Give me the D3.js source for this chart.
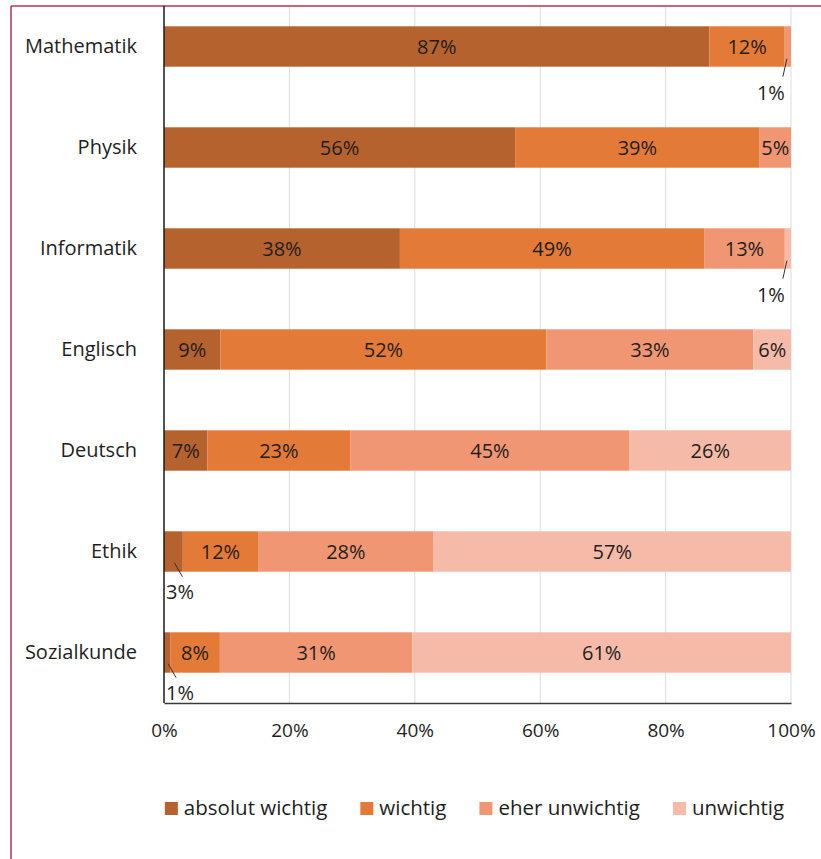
<!DOCTYPE html>
<html>
<head>
<meta charset="utf-8">
<script src="https://cdn.jsdelivr.net/npm/d3@7"></script>
<style>
  body { margin: 0; background: #fff; }
  svg { display: block; font-family: "Open Sans", Lato, sans-serif; }
</style>
</head>
<body>
<svg id="chart" width="821" height="859"></svg>
<script>
const subjects = ["Mathematik", "Physik", "Informatik", "Englisch", "Deutsch", "Ethik", "Sozialkunde"];
const seriesNames = ["absolut wichtig", "wichtig", "eher unwichtig", "unwichtig"];
const absolutWichtig = [87, 56, 38, 9, 7, 3, 1];
const wichtig = [12, 39, 49, 52, 23, 12, 8];
const eherUnwichtig = [1, 5, 13, 33, 45, 28, 31];
const unwichtig = [0, 0, 1, 6, 26, 57, 61];
const colors = ["#b6622e", "#e47a37", "#f09672", "#f5bba8"];
const xTicks = [0, 0.2, 0.4, 0.6, 0.8, 1];
// small segments whose label sits below the bar with a leader line
const outsideLabels = [
  { subject: "Mathematik", series: "eher unwichtig", side: "right" },
  { subject: "Informatik", series: "unwichtig", side: "right" },
  { subject: "Ethik", series: "absolut wichtig", side: "left" },
  { subject: "Sozialkunde", series: "absolut wichtig", side: "left" }
];

const values = [absolutWichtig, wichtig, eherUnwichtig, unwichtig];
const rows = subjects.map((s, i) => {
  const r = { subject: s };
  seriesNames.forEach((n, k) => { r[n] = values[k][i]; });
  return r;
});

const svg = d3.select("#chart");
const margin = { left: 164, right: 30, top: -4, bottom: 156 };
const W = 821, H = 859;
const FS = 20;
const textCol = "#1e1e1e";

const x = d3.scaleLinear().domain([0, 1]).range([margin.left, W - margin.right]);
const y = d3.scaleBand().domain(subjects).range([margin.top, H - margin.bottom])
  .paddingInner(0.6).paddingOuter(0.3);

const stacked = d3.stack().keys(seriesNames).offset(d3.stackOffsetExpand)(rows);

// frame
svg.append("line").attr("x1", 11).attr("x2", 11).attr("y1", 6).attr("y2", H)
  .attr("stroke", "#b8324f").attr("stroke-width", 1.5);
svg.append("line").attr("x1", 11).attr("x2", W).attr("y1", 6).attr("y2", 6)
  .attr("stroke", "#b8324f").attr("stroke-width", 1.5);

// gridlines
svg.append("g").selectAll("line").data(xTicks.slice(1)).enter().append("line")
  .attr("x1", d => x(d)).attr("x2", d => x(d))
  .attr("y1", 7).attr("y2", H - margin.bottom)
  .attr("stroke", "#dcdcdc").attr("stroke-width", 1);

// bars
const layer = svg.append("g").selectAll("g").data(stacked).enter().append("g")
  .attr("fill", (d, i) => colors[i]);
layer.selectAll("rect").data(d => d).enter().append("rect")
  .attr("x", d => x(d[0]))
  .attr("width", d => Math.max(0, x(d[1]) - x(d[0])))
  .attr("y", d => y(d.data.subject))
  .attr("height", y.bandwidth());

// inside labels
const isOutside = (subj, ser) => outsideLabels.some(o => o.subject === subj && o.series === ser);
stacked.forEach(s => {
  svg.append("g").selectAll("text")
    .data(s.filter(d => d.data[s.key] > 0 && !isOutside(d.data.subject, s.key)))
    .enter().append("text")
    .attr("x", d => (x(d[0]) + x(d[1])) / 2)
    .attr("y", d => y(d.data.subject) + y.bandwidth() / 2)
    .attr("dy", "0.35em")
    .attr("text-anchor", "middle")
    .attr("font-size", FS)
    .attr("fill", textCol)
    .text(d => d.data[s.key] + "%");
});

// outside labels with leader lines
outsideLabels.forEach(o => {
  const s = stacked.find(t => t.key === o.series);
  const d = s.find(t => t.data.subject === o.subject);
  const mid = (x(d[0]) + x(d[1])) / 2;
  const bottom = y(o.subject) + y.bandwidth();
  const g = svg.append("g");
  if (o.side === "right") {
    g.append("line").attr("x1", mid - 1).attr("y1", bottom - 8)
      .attr("x2", mid - 5).attr("y2", bottom + 10)
      .attr("stroke", "#333").attr("stroke-width", 1);
    g.append("text").attr("x", mid - 3).attr("y", bottom + 26).attr("dy", "0.35em")
      .attr("text-anchor", "end").attr("font-size", FS).attr("fill", textCol)
      .text(d.data[o.series] + "%");
  } else {
    g.append("line").attr("x1", mid + 1).attr("y1", bottom - 9)
      .attr("x2", mid + 9).attr("y2", bottom + 5)
      .attr("stroke", "#333").attr("stroke-width", 1);
    g.append("text").attr("x", x(0) + 2).attr("y", bottom + 20).attr("dy", "0.35em")
      .attr("text-anchor", "start").attr("font-size", FS).attr("fill", textCol)
      .text(d.data[o.series] + "%");
  }
});

// axes
const xAxis = d3.axisBottom(x).tickValues(xTicks).tickFormat(d3.format(".0%"))
  .tickSize(0).tickPadding(21);
svg.append("g").attr("transform", `translate(0,${H - margin.bottom})`).call(xAxis)
  .call(g => g.select(".domain").attr("stroke", "#3a3a3a").attr("stroke-width", 1.5))
  .selectAll("text").attr("font-size", 19).attr("fill", textCol)
  .attr("font-family", "'Open Sans', Lato, sans-serif");

const yAxis = d3.axisLeft(y).tickSize(0).tickPadding(27);
svg.append("g").attr("transform", `translate(${margin.left},0)`).call(yAxis)
  .call(g => g.select(".domain").remove())
  .selectAll("text").attr("font-size", FS).attr("fill", textCol)
  .attr("font-family", "'Open Sans', Lato, sans-serif");

svg.append("line").attr("x1", x(0)).attr("x2", x(0)).attr("y1", 6).attr("y2", H - margin.bottom)
  .attr("stroke", "#1a1a1a").attr("stroke-width", 1.5);

// legend
const legend = svg.append("g");
let lx = 0;
const gap = 33;
seriesNames.forEach((n, i) => {
  const item = legend.append("g").attr("transform", `translate(${lx},0)`);
  item.append("rect").attr("x", 0).attr("y", -6).attr("width", 13).attr("height", 13)
    .attr("fill", colors[i]);
  const t = item.append("text").attr("x", 19).attr("y", 0).attr("dy", "0.35em")
    .attr("font-size", 20.5).attr("fill", textCol).text(n);
  lx += 19 + t.node().getComputedTextLength() + gap;
});
const legendW = lx - gap;
legend.attr("transform", `translate(${(x(0) + x(1)) / 2 - legendW / 2 - 3},808)`);
</script>
</body>
</html>
